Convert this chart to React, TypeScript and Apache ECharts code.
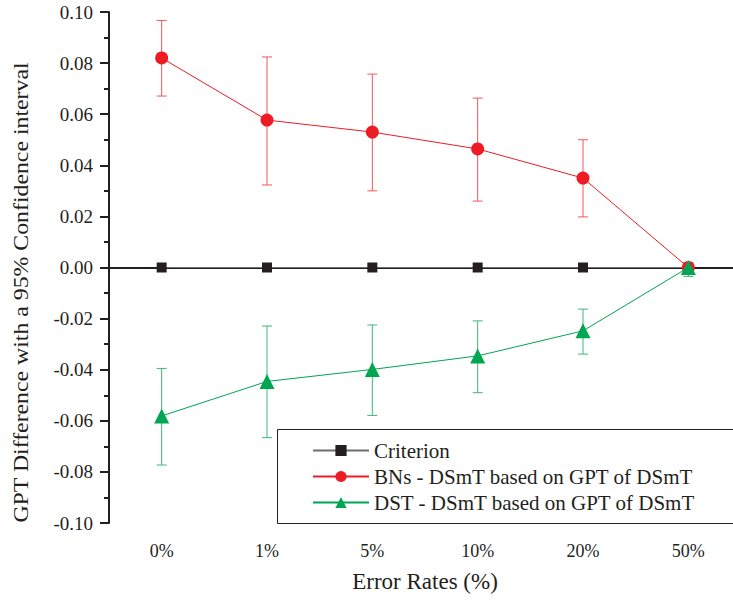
import React, { useEffect, useRef } from "react";
import * as echarts from "echarts";

const categories = ["0%", "1%", "5%", "10%", "20%", "50%"];
const criterion = [0, 0, 0, 0, 0, 0];
const bns = [0.082, 0.0577, 0.053, 0.0464, 0.035, 0.0];
const bnsLow = [0.0671, 0.0323, 0.030, 0.026, 0.0198, 0.0];
const bnsHigh = [0.0967, 0.0824, 0.0757, 0.0663, 0.050, 0.0];
const dst = [-0.0581, -0.0446, -0.0399, -0.0346, -0.0248, 0.0];
const dstLow = [-0.0773, -0.0666, -0.0579, -0.049, -0.0339, -0.0035];
const dstHigh = [-0.0395, -0.0229, -0.0225, -0.0209, -0.0163, 0.0];
const yTicks = { min: -0.1, max: 0.1, interval: 0.02 };
const yTitle = "GPT Difference with a 95% Confidence interval";
const xTitle = "Error Rates (%)";

const FONT = "Liberation Serif";
const INK = "#231f20";
const RED = "#ed1c24";
const RED_BAR = "#f0565c";
const GREEN = "#00a651";
const GREEN_BAR = "#3cb878";

function errorSeries(low: number[], high: number[], color: string, skipLast: boolean) {
  const data = low
    .map((l, i) => [i, l, high[i]])
    .filter((_, i) => !(skipLast && i === low.length - 1));
  return {
    type: "custom",
    data,
    encode: { x: 0, y: [1, 2] },
    silent: true,
    z: 1,
    renderItem: (params: any, api: any) => {
      const x = api.value(0);
      const lo = api.coord([x, api.value(1)]);
      const hi = api.coord([x, api.value(2)]);
      const w = 5;
      const style = { stroke: color, lineWidth: 1 };
      return {
        type: "group",
        children: [
          { type: "line", shape: { x1: lo[0], y1: lo[1], x2: hi[0], y2: hi[1] }, style },
          { type: "line", shape: { x1: lo[0] - w, y1: lo[1], x2: lo[0] + w, y2: lo[1] }, style },
          { type: "line", shape: { x1: hi[0] - w, y1: hi[1], x2: hi[0] + w, y2: hi[1] }, style },
        ],
      };
    },
  };
}

export default function App() {
  const ref = useRef<HTMLDivElement>(null);
  useEffect(() => {
    if (!ref.current) return;
    const chart = echarts.init(ref.current, null, { renderer: "svg" });
    chart.setOption({
      animation: false,
      backgroundColor: "#ffffff",
      grid: { left: 109, top: 12, bottom: 79, width: 632, outerBoundsMode: "none", containLabel: false },
      legend: {
        data: [
          "Criterion",
          "BNs - DSmT based on GPT of DSmT",
          "DST - DSmT based on GPT of DSmT",
        ],
        orient: "vertical",
        left: 312,
        top: 440,
        itemWidth: 56,
        itemHeight: 14,
        itemGap: 5,
        padding: 0,
        textStyle: { fontFamily: FONT, fontSize: 21, color: INK, lineHeight: 21 },
        z: 10,
      },
      graphic: [
        {
          type: "rect",
          z: 5,
          shape: { x: 277.5, y: 429.5, width: 480, height: 94 },
          style: { fill: "#ffffff", stroke: INK, lineWidth: 1 },
        },
        {
          type: "text",
          x: 21.5,
          y: 292.5,
          rotation: Math.PI / 2,
          scaleX: 1.19,
          style: {
            text: yTitle,
            fontFamily: FONT,
            fontSize: 20,
            fill: INK,
            align: "center",
            verticalAlign: "middle",
          },
        },
      ],
      xAxis: [
        {
          type: "category",
          data: categories,
          boundaryGap: true,
          name: xTitle,
          nameLocation: "middle",
          nameGap: 47,
          nameTextStyle: { fontFamily: FONT, fontSize: 23, color: INK },
          axisLine: { lineStyle: { color: INK, width: 2 } },
          axisTick: { alignWithLabel: true, length: 12, lineStyle: { color: INK, width: 2 } },
          axisLabel: { fontFamily: FONT, fontSize: 18, color: INK, margin: 19 },
          splitLine: { show: false },
        },
        {
          type: "category",
          data: categories,
          boundaryGap: true,
          position: "bottom",
          axisLine: { show: false },
          axisTick: { length: 7, lineStyle: { color: INK, width: 2 } },
          axisLabel: { show: false },
          splitLine: { show: false },
        },
      ],
      yAxis: {
        type: "value",
        min: yTicks.min,
        max: yTicks.max,
        interval: yTicks.interval,
        axisLine: { show: true, lineStyle: { color: INK, width: 2 } },
        axisTick: { show: true, length: 9, lineStyle: { color: INK, width: 2 } },
        minorTick: { show: true, splitNumber: 2, length: 5, lineStyle: { color: INK, width: 2 } },
        axisLabel: {
          fontFamily: FONT,
          fontSize: 19,
          color: INK,
          margin: 16,
          formatter: (v: number) => v.toFixed(2),
        },
        splitLine: { show: false },
      },
      series: [
        errorSeries(bnsLow, bnsHigh, RED_BAR, true),
        errorSeries(dstLow, dstHigh, GREEN_BAR, false),
        {
          name: "Criterion",
          type: "line",
          data: criterion,
          symbol: "rect",
          symbolSize: 10,
          itemStyle: { color: INK },
          lineStyle: { color: "#6d6e71", width: 1 },
          z: 2,
        },
        {
          name: "BNs - DSmT based on GPT of DSmT",
          type: "line",
          data: bns,
          symbol: "circle",
          symbolSize: 13,
          itemStyle: { color: RED },
          lineStyle: { color: RED, width: 1 },
          z: 3,
        },
        {
          name: "DST - DSmT based on GPT of DSmT",
          type: "line",
          data: dst,
          symbol: "triangle",
          symbolSize: 15,
          itemStyle: { color: GREEN },
          lineStyle: { color: GREEN, width: 1 },
          z: 4,
        },
      ],
    });
    return () => chart.dispose();
  }, []);
  return (
    <div
      ref={ref}
      style={{ position: "absolute", left: 0, top: 0, width: 733, height: 602 }}
    />
  );
}
